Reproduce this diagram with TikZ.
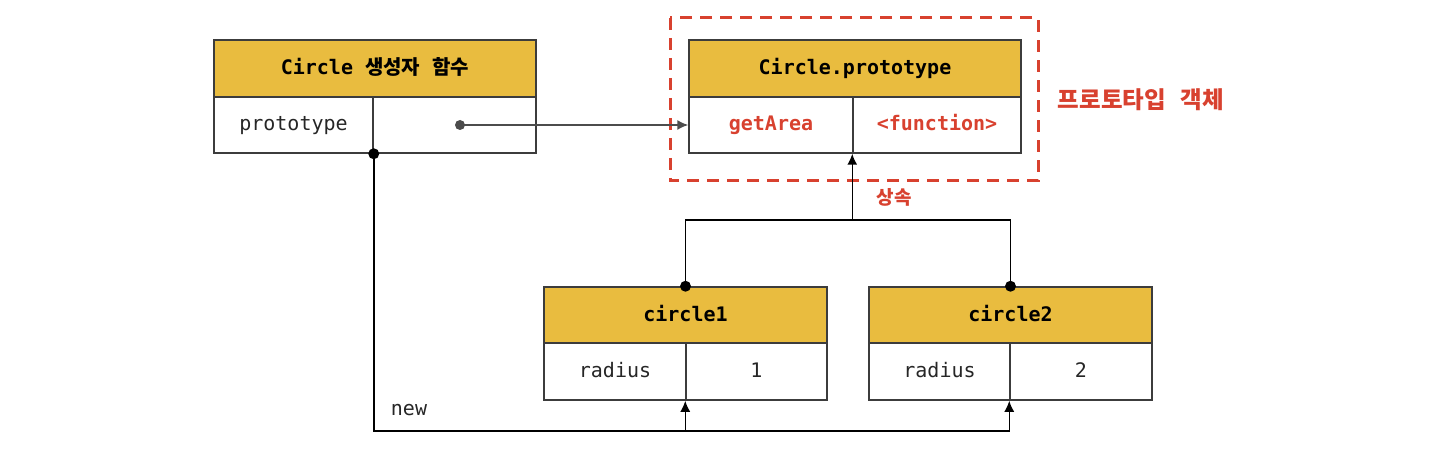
\documentclass[tikz,border=0pt]{standalone}
\usepackage{fontspec}
\setmonofont{DejaVu Sans Mono}
\newfontfamily\kr{Noto Sans CJK KR}
\usetikzlibrary{arrows.meta}
\definecolor{gold}{HTML}{E9BC3F}
\definecolor{redline}{HTML}{D8412F}
\definecolor{boxline}{HTML}{3C3C3C}

\begin{document}
\begin{tikzpicture}[x=1pt,y=-1pt]
        \useasboundingbox (0,0) rectangle (1448,454);

        \begin{scope}[every node/.style={draw=boxline,line width=1.5pt,inner sep=0pt,
                text height=14pt,text depth=2pt,
                minimum height=56pt,font=\ttfamily\fontsize{20}{24}\selectfont,text=black!85},
            hdr/.style={fill=gold,font=\ttfamily\bfseries\fontsize{20}{24}\selectfont,text=black},
            redbold/.style={text=redline,font=\ttfamily\bfseries\fontsize{20}{24}\selectfont}]
            % constructor
            \node[hdr,minimum width=322pt,minimum height=57pt] (ch) at (375,68.5) {Circle {\kr 생성자} {\kr 함수}};
            \node[minimum width=159pt] (ck) at (293.5,125) {prototype};
            \node[minimum width=163pt] (cv) at (454.5,125) {};
            % prototype
            \node[hdr,minimum width=332pt,minimum height=57pt] (ph) at (855,68.5) {Circle.prototype};
            \node[redbold,minimum width=164pt] (pk) at (771,125) {getArea};
            \node[redbold,minimum width=168pt] (pv) at (937,125) {<function>};
            % instances
            \node[hdr,minimum width=283pt] (h1) at (685.5,315) {circle1};
            \node[minimum width=142pt,minimum height=57pt] (k1) at (615,371.5) {radius};
            \node[minimum width=141pt,minimum height=57pt] (v1) at (756.5,371.5) {1};
            \node[hdr,minimum width=283pt] (h2) at (1010.5,315) {circle2};
            \node[minimum width=141pt,minimum height=57pt] (k2) at (939.5,371.5) {radius};
            \node[minimum width=142pt,minimum height=57pt] (v2) at (1081,371.5) {2};
        \end{scope}

        \draw[redline,line width=3pt,dash pattern=on 12pt off 8pt] (670,18) rectangle (1038,181);

        \begin{scope}[every node/.style={text=redline,font=\kr\bfseries\fontsize{19}{24}\selectfont}]
            \node (lbl) at (1141,100) {\fontsize{23.5}{28}\selectfont 프로토타입\hspace{15pt}객체};
            \node (inh) at (894,197) {상속};
        \end{scope}
        \node[font=\ttfamily\fontsize{20}{24}\selectfont,text=black!85] (newl) at (409,410) {new};

        \begin{scope}[conn/.style={draw=black,line width=1.5pt},
            tip/.style={-{Latex[length=11pt,width=10pt]}}]
            \coordinate (pdot) at (460,125);
            \coordinate (nb) at (0,431);
            \coordinate (hb) at (0,220);
            \fill[black!70] (pdot) circle (5pt);
            \draw[conn,tip,draw=black!70] (pdot) -- (pk.west);
            \fill (ck.south east) circle (5.5pt);
            \draw[conn,tip] (ck.south east) |- (nb -| v2.south west) -- (v2.south west);
            \draw[conn,tip] (nb -| v1.south west) -- (v1.south west);
            \fill (h1.north) circle (5.5pt);
            \fill (h2.north) circle (5.5pt);
            \draw[conn] (h1.north) |- (hb -| h2.north) -- (h2.north);
            \draw[conn,tip] (hb -| pv.south west) -- (pv.south west);
        \end{scope}
    \end{tikzpicture}
\end{document}
